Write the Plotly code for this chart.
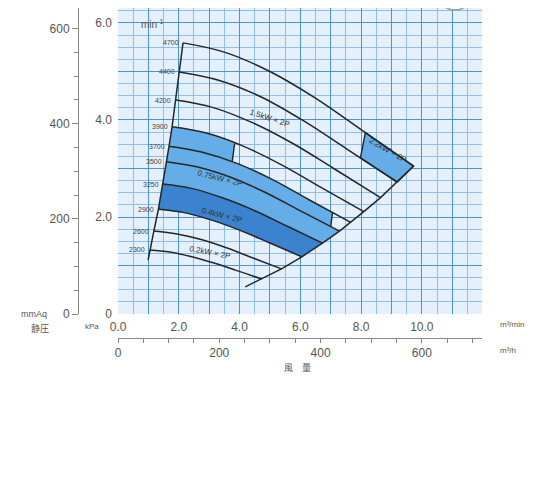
import plotly.graph_objects as go

# ---------------- data ----------------
# fan curves: flow (m3/min) and static pressure (kPa) per speed (min-1)
speed_labels = ["4700", "4400", "4200", "3900", "3700", "3500", "3250", "2900", "2600", "2300"]
q_4700 = [2.14, 3.50, 5.00, 6.50, 8.00, 9.73]
p_4700 = [5.59, 5.40, 5.00, 4.45, 3.80, 3.05]
q_4400 = [2.02, 3.31, 4.73, 6.14, 7.56, 9.19]
p_4400 = [4.99, 4.82, 4.47, 3.97, 3.39, 2.72]
q_4200 = [1.90, 3.11, 4.44, 5.77, 7.10, 8.64]
p_4200 = [4.41, 4.26, 3.94, 3.51, 3.00, 2.40]
q_3900 = [1.78, 2.91, 4.16, 5.40, 6.65, 8.09]
p_3900 = [3.86, 3.73, 3.45, 3.07, 2.62, 2.11]
q_3700 = [1.68, 2.75, 3.94, 5.12, 6.30, 7.66]
p_3700 = [3.46, 3.34, 3.10, 2.76, 2.35, 1.89]
q_3500 = [1.60, 2.62, 3.75, 4.87, 5.99, 7.29]
p_3500 = [3.14, 3.03, 2.81, 2.50, 2.13, 1.71]
q_3250 = [1.48, 2.42, 3.46, 4.50, 5.54, 6.73]
p_3250 = [2.68, 2.59, 2.39, 2.13, 1.82, 1.46]
q_2900 = [1.33, 2.18, 3.11, 4.04, 4.98, 6.05]
p_2900 = [2.16, 2.09, 1.93, 1.72, 1.47, 1.18]
q_2600 = [1.18, 1.94, 2.77, 3.59, 4.42, 5.38]
p_2600 = [1.71, 1.65, 1.53, 1.36, 1.16, 0.93]
q_2300 = [1.04, 1.70, 2.43, 3.16, 3.89, 4.73]
p_2300 = [1.32, 1.28, 1.18, 1.05, 0.90, 0.72]

curves_q = [q_4700, q_4400, q_4200, q_3900, q_3700, q_3500, q_3250, q_2900, q_2600, q_2300]
curves_p = [p_4700, p_4400, p_4200, p_3900, p_3700, p_3500, p_3250, p_2900, p_2600, p_2300]

# ends of the boundary lines beyond the last curve
left_end_q, left_end_p = 0.99, 1.11
right_end_q, right_end_p = 4.19, 0.56

# region cut points
box22_q = [8.14, 9.73, 9.19, 7.98]
box22_p = [3.74, 3.05, 2.72, 3.22]
cut_top_q, cut_top_p = 3.84, 3.52      # on 3900 curve
cut_mid_q, cut_mid_p = 3.76, 3.14      # on 3700 curve
cut_r1_q, cut_r1_p = 7.06, 2.09        # on 3700 curve
cut_r2_q, cut_r2_p = 7.00, 1.80        # on 3500 curve

motor_labels = ["1.5kW × 2P", "2.2kW × 2P", "0.75kW × 2P", "0.4kW × 2P", "0.2kW × 2P"]
motor_q = [5.01, 8.90, 3.36, 3.43, 3.03]
motor_p = [4.04, 3.38, 2.80, 2.04, 1.26]
motor_angle = [18, 30, 14, 14, 11]

# axis ranges (kPa / m3/min and their mmAq / m3/h equivalents)
q_max = 11.98
p_max = 6.309
mmaq_max = 643.3
m3h_max = 718.8

# ---------------- figure ----------------
OFF = 8                     # page offset of the plot div in the browser
W, H = 534 - OFF, 496 - OFF
# screen pixel positions of the paper area
S_L, S_R, S_T, S_B = 78, 482, 8, 338


def px_x(sx):
    return (sx - S_L) / (S_R - S_L)


def px_y(sy):
    return (S_B - sy) / (S_B - S_T)


LIGHT = "#64ade8"
DARK = "#3b82cf"
LINE = "#262626"
GREY = "#555555"
FONT = "Liberation Sans"

fig = go.Figure()

# light blue operating region
lq = q_3900[:2] + [cut_top_q, cut_mid_q] + [v for v in q_3700 if cut_mid_q < v < cut_r1_q] + [cut_r1_q, cut_r2_q] \
    + [q_3500[-1]] + q_3250[::-1] + [q_3500[0], q_3700[0], q_3900[0]]
lp = p_3900[:2] + [cut_top_p, cut_mid_p] + [p for v, p in zip(q_3700, p_3700) if cut_mid_q < v < cut_r1_q] + [cut_r1_p, cut_r2_p] \
    + [p_3500[-1]] + p_3250[::-1] + [p_3500[0], p_3700[0], p_3900[0]]
fig.add_trace(go.Scatter(x=lq, y=lp, fill="toself", fillcolor=LIGHT, line=dict(width=0),
                         mode="lines", hoverinfo="skip"))

# darker region
dq = q_3250 + q_2900[::-1]
dp = p_3250 + p_2900[::-1]
fig.add_trace(go.Scatter(x=dq, y=dp, fill="toself", fillcolor=DARK, line=dict(width=0),
                         mode="lines", hoverinfo="skip"))

# 2.2 kW box
fig.add_trace(go.Scatter(x=box22_q + [box22_q[0]], y=box22_p + [box22_p[0]], fill="toself",
                         fillcolor=LIGHT, line=dict(width=1.4, color=LINE), mode="lines",
                         hoverinfo="skip"))

# edges of the light region (power limit steps)
fig.add_trace(go.Scatter(x=[cut_top_q, cut_mid_q], y=[cut_top_p, cut_mid_p], mode="lines",
                         line=dict(width=1.4, color=LINE), hoverinfo="skip"))
fig.add_trace(go.Scatter(x=[cut_r1_q, cut_r2_q], y=[cut_r1_p, cut_r2_p], mode="lines",
                         line=dict(width=1.4, color=LINE), hoverinfo="skip"))

# fan curves
for q, p in zip(curves_q, curves_p):
    fig.add_trace(go.Scatter(x=q, y=p, mode="lines", line=dict(width=1.5, color=LINE, shape="spline"),
                             hoverinfo="skip"))

# left and right boundary lines
fig.add_trace(go.Scatter(x=[c[0] for c in curves_q] + [left_end_q],
                         y=[c[0] for c in curves_p] + [left_end_p],
                         mode="lines", line=dict(width=1.5, color=LINE), hoverinfo="skip"))
fig.add_trace(go.Scatter(x=[c[-1] for c in curves_q] + [right_end_q],
                         y=[c[-1] for c in curves_p] + [right_end_p],
                         mode="lines", line=dict(width=1.5, color=LINE), hoverinfo="skip"))

# invisible traces to activate secondary axes
fig.add_trace(go.Scatter(x=[0], y=[0], xaxis="x2", yaxis="y", mode="markers",
                         marker=dict(opacity=0), hoverinfo="skip"))
fig.add_trace(go.Scatter(x=[0], y=[0], xaxis="x", yaxis="y2", mode="markers",
                         marker=dict(opacity=0), hoverinfo="skip"))

xdom = [px_x(118), 1.0]
ydom = [px_y(314), 1.0]
tickfont = dict(family=FONT, size=12, color=GREY)

fig.update_layout(
    width=W, height=H,
    margin=dict(l=S_L - OFF, r=W - (S_R - OFF), t=S_T - OFF, b=H - (S_B - OFF), autoexpand=False),
    paper_bgcolor="white", plot_bgcolor="#e4f0fb",
    showlegend=False,
    font=dict(family=FONT, color=GREY),
    xaxis=dict(domain=xdom, range=[0, q_max], tickmode="linear", tick0=0, dtick=1, ticklabelstep=2,
               tickformat=".1f",
               showgrid=True, gridcolor="#4f92d2", gridwidth=1, zeroline=False, showline=False,
               ticks="", tickfont=tickfont, anchor="y", automargin=False, ticklabelstandoff=4,
               minor=dict(dtick=0.5, tick0=0, showgrid=True, gridcolor="#8fbfe9", gridwidth=1)),
    yaxis=dict(domain=ydom, range=[0, p_max], tickmode="linear", tick0=0, dtick=1, ticklabelstep=2,
               tickformat=".1f", labelalias={"0.0": "0"},
               showgrid=True, gridcolor="#4f92d2", gridwidth=1, zeroline=False, showline=False,
               ticks="", tickfont=tickfont, anchor="x", ticklabelstandoff=5, automargin=False,
               minor=dict(dtick=0.25, tick0=0, showgrid=True, gridcolor="#8fbfe9", gridwidth=1)),
    yaxis2=dict(overlaying="y", anchor="free", position=0, side="left", domain=ydom,
                range=[0, mmaq_max], tickmode="linear", tick0=0, dtick=200,
                showgrid=False, zeroline=False, showline=True, linecolor="#888", linewidth=1,
                ticks="outside", ticklen=6, tickcolor="#888", tickfont=tickfont, automargin=False,
                minor=dict(dtick=50, tick0=0, ticks="outside", ticklen=4, tickcolor="#888",
                           showgrid=False)),
    xaxis2=dict(overlaying="x", anchor="free", position=0, side="bottom", domain=xdom,
                range=[0, m3h_max], tickmode="linear", tick0=0, dtick=200,
                showgrid=False, zeroline=False, showline=True, linecolor="#888", linewidth=1,
                ticks="outside", ticklen=4, tickcolor="#888", tickfont=tickfont, automargin=False,
                minor=dict(dtick=50, tick0=0, ticks="outside", ticklen=4, tickcolor="#888",
                           showgrid=False)),
)

# speed labels
for q, p, s in zip(curves_q, curves_p, speed_labels):
    fig.add_annotation(x=q[0] - 0.08, y=p[0], text=s, showarrow=False, xanchor="right",
                       yanchor="middle", font=dict(size=7, color="#444", family=FONT))

# motor labels
for s, q, p, a in zip(motor_labels, motor_q, motor_p, motor_angle):
    fig.add_annotation(x=q, y=p, text=s, showarrow=False, textangle=a,
                       xanchor="center", yanchor="middle",
                       font=dict(size=8, color="#333", family=FONT))

# unit texts
units = [
    ("min<sup>-1</sup>", 152, 24, 10, FONT),
    ("mmAq", 34, 314, 9, FONT),
    ("静圧", 40, 328, 9, "Noto Sans CJK JP"),
    ("kPa", 92, 326, 8, FONT),
    ("m³/min", 512, 324, 8, FONT),
    ("m³/h", 508, 350, 8, FONT),
    ("風　量", 297, 367, 9, "Noto Sans CJK JP"),
]
for t, x, y, s, f in units:
    fig.add_annotation(xref="paper", yref="paper", x=px_x(x), y=px_y(y), text=t, showarrow=False,
                       xanchor="center", yanchor="middle",
                       font=dict(size=s, color=GREY, family=f))

# logo circle at top right
fig.add_shape(type="circle", xref="paper", yref="paper", x0=px_x(437), x1=px_x(473),
              y0=px_y(10), y1=px_y(-26), fillcolor="white", line=dict(color="#999", width=1.5))

fig.write_html("out.html")
